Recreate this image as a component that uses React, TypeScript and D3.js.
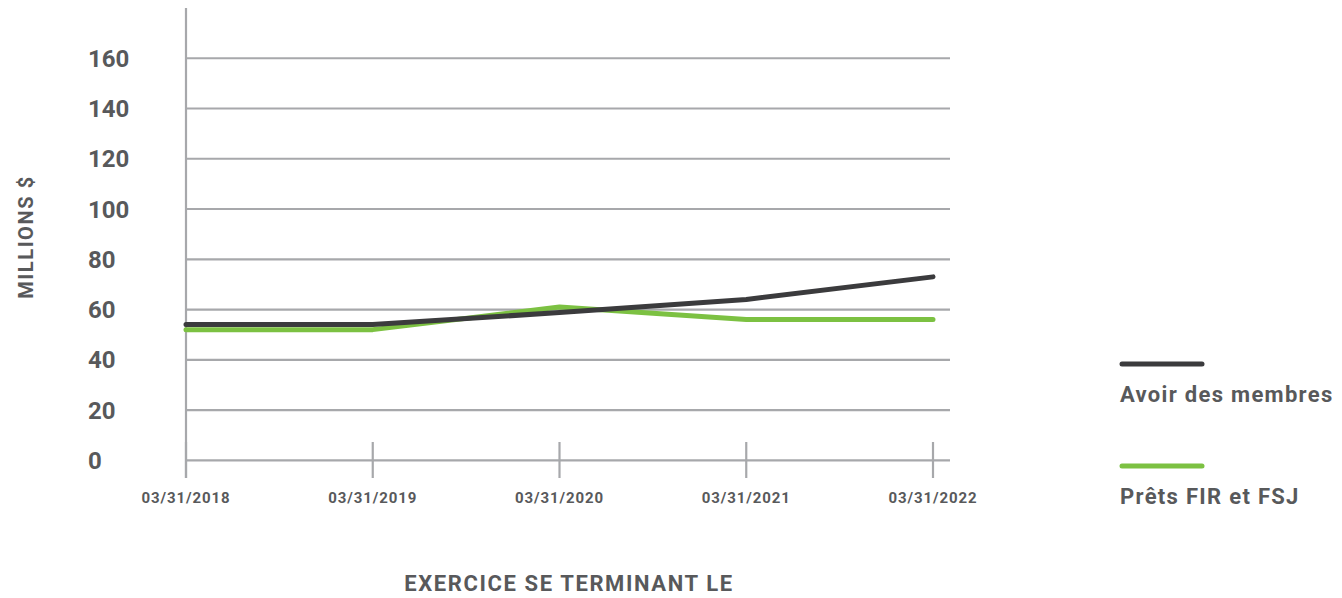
import React from "react";
import * as d3 from "d3";

const categories = ["03/31/2018", "03/31/2019", "03/31/2020", "03/31/2021", "03/31/2022"];
const avoirValues = [54, 54, 58.8, 64, 73];
const pretsValues = [52, 52, 61, 56, 56];
const yTicks = [0, 20, 40, 60, 80, 100, 120, 140, 160];
const seriesNames = ["Avoir des membres", "Prêts FIR et FSJ"];

const W = 1342;
const H = 598;
const textColor = "#58595b";
const gridColor = "#a7a8ab";
const darkColor = "#3b3b3d";
const greenColor = "#7cc142";
const font = "Roboto, 'DejaVu Sans', sans-serif";

export default function App() {
  const x = d3.scalePoint<string>().domain(categories).range([186, 933]);
  const y = d3.scaleLinear().domain([0, 180]).range([460.3, 8]);

  const line = d3
    .line<number>()
    .x((_, i) => x(categories[i]) as number)
    .y((d) => y(d));

  const series = [
    { name: seriesNames[0], values: avoirValues, color: darkColor },
    { name: seriesNames[1], values: pretsValues, color: greenColor },
  ];

  return (
    <svg
      width={W}
      height={H}
      style={{ position: "absolute", left: 0, top: 0 }}
      fontFamily={font}
    >
      {yTicks.map((t) => (
        <line key={t} x1={186} x2={950} y1={y(t)} y2={y(t)} stroke={gridColor} strokeWidth={2.2} />
      ))}
      <line x1={186} x2={186} y1={y(180)} y2={478} stroke={gridColor} strokeWidth={2.2} />
      {categories.map((c) => (
        <line key={c} x1={x(c)} x2={x(c)} y1={442} y2={478} stroke={gridColor} strokeWidth={2.2} />
      ))}
      {yTicks.map((t) => (
        <text
          key={t}
          x={88}
          y={y(t)}
          dy="0.36em"
          fontSize={24}
          fontWeight="bold"
          fill={textColor}
        >
          {t}
        </text>
      ))}
      {categories.map((c) => (
        <text
          key={c}
          x={x(c)}
          y={503}
          textAnchor="middle"
          fontSize={15}
          letterSpacing={0.9}
          fontWeight="bold"
          fill={textColor}
        >
          {c}
        </text>
      ))}
      {series
        .map((s) => (
          <path
            key={s.name}
            d={line(s.values) || ""}
            fill="none"
            stroke={s.color}
            strokeWidth={5}
            strokeLinecap="round"
            strokeLinejoin="round"
          />
        ))
        .reverse()}
      <text
        transform="translate(33,237) rotate(-90)"
        textAnchor="middle"
        fontSize={20}
        letterSpacing={1.6}
        fontWeight="bold"
        fill={textColor}
      >
        MILLIONS $
      </text>
      <text
        x={569}
        y={591}
        textAnchor="middle"
        fontSize={22}
        letterSpacing={1.6}
        fontWeight="bold"
        fill={textColor}
      >
        EXERCICE SE TERMINANT LE
      </text>
      {series.map((s, i) => (
        <g key={s.name} transform={`translate(1120, ${364 + i * 102})`}>
          <line x1={2} x2={82} y1={0} y2={0} stroke={s.color} strokeWidth={5} strokeLinecap="round" />
          <text x={0} y={38} fontSize={22} letterSpacing={1.3} fontWeight="bold" fill={textColor}>
            {s.name}
          </text>
        </g>
      ))}
    </svg>
  );
}
